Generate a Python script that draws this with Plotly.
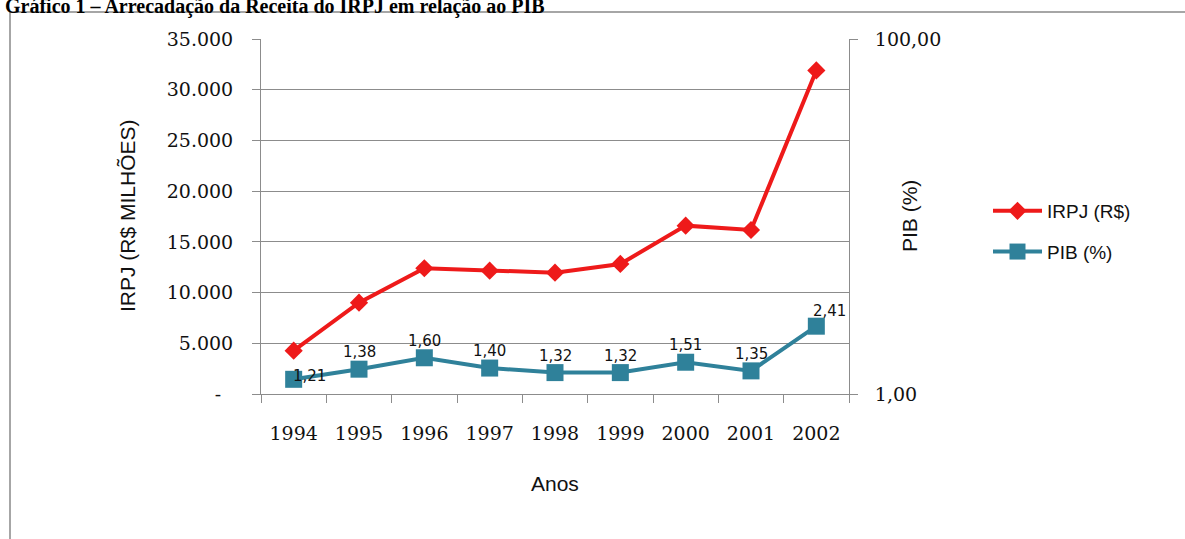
import math
import plotly.graph_objects as go

# Arrecadação do IRPJ (R$ milhões) e participação no PIB (%), 1994-2002
anos = ["1994", "1995", "1996", "1997", "1998", "1999", "2000", "2001", "2002"]
irpj = [4270, 9000, 12400, 12160, 11960, 12820, 16600, 16170, 31900]
pib = [1.21, 1.38, 1.60, 1.40, 1.32, 1.32, 1.51, 1.35, 2.41]

irpj_ticks = [0, 5000, 10000, 15000, 20000, 25000, 30000, 35000]
irpj_ticktext = ["-\u00a0\u00a0", "5.000", "10.000", "15.000", "20.000", "25.000", "30.000", "35.000"]
pib_ticks = [1, 100]
pib_ticktext = ["1,00", "100,00"]

W, H = 1185, 539
L, R, T, B = 261, 336, 39, 145
PW, PH = W - L - R, H - T - B


def px(x):
    return (x - L) / PW


def py(y):
    return (H - B - y) / PH


RED = "#ee1a1a"
TEAL = "#2f819a"
GRID = "#8c8c8c"
TICK_FONT = dict(family="DejaVu Serif", size=19, color="#111")
SANS = "Liberation Sans"

fig = go.Figure()
fig.add_trace(go.Scatter(
    x=anos, y=irpj, name="IRPJ (R$)", mode="lines+markers",
    line=dict(color=RED, width=4),
    marker=dict(symbol="diamond", size=14, color=RED),
    legendgroup="irpj",
))
fig.add_trace(go.Scatter(
    x=anos, y=pib, name="PIB (%)", yaxis="y2", mode="lines+markers",
    line=dict(color=TEAL, width=4),
    marker=dict(symbol="square", size=17, color=TEAL),
    legendgroup="pib",
))

# value labels of the PIB series (first and last nudged to the right)
label_shift = [(16, 3)] + [(0, 17)] * 7 + [(13, 15)]
annotations = []
for i, (v, (dx, dy)) in enumerate(zip(pib, label_shift)):
    annotations.append(dict(
        x=i, y=math.log10(v), xref="x", yref="y2",
        text=f"{v:.2f}".replace(".", ","), showarrow=False,
        xanchor="center", yanchor="middle",
        xshift=dx, yshift=dy,
        font=dict(family="DejaVu Sans", size=15, color="#111"),
    ))

# axis titles and caption
annotations += [
    dict(x=px(127), y=py(216), xref="paper", yref="paper", text="IRPJ (R$ MILHÕES)",
         xanchor="center", yanchor="middle",
         textangle=-90, showarrow=False, font=dict(family=SANS, size=21, color="#111")),
    dict(x=px(909), y=py(216), xref="paper", yref="paper", text="PIB (%)",
         xanchor="center", yanchor="middle",
         textangle=-90, showarrow=False, font=dict(family=SANS, size=21, color="#111")),
    dict(x=px(555), y=py(483), xref="paper", yref="paper", text="Anos",
         xanchor="center", yanchor="middle",
         showarrow=False, font=dict(family=SANS, size=21, color="#111")),
    dict(x=px(3), y=py(6.5), xref="paper", yref="paper", xanchor="left", yanchor="middle",
         text="<b>Gráfico 1 – Arrecadação da Receita do IRPJ em relação ao PIB</b>",
         showarrow=False, font=dict(family="Liberation Serif", size=20, color="#000")),
]

# chart frame
shapes = [
    dict(type="line", xref="paper", yref="paper", x0=px(10), x1=px(10), y0=py(12), y1=py(560),
         line=dict(color="#a6a6a6", width=2)),
    dict(type="line", xref="paper", yref="paper", x0=px(10), x1=px(1300), y0=py(12), y1=py(12),
         line=dict(color="#a6a6a6", width=2)),
]

fig.update_layout(
    width=W, height=H,
    margin=dict(l=L, r=R, t=T, b=B, autoexpand=False),
    paper_bgcolor="white", plot_bgcolor="white",
    showlegend=True,
    legend=dict(
        x=px(988), y=py(192), xanchor="left", yanchor="top",
        font=dict(family=SANS, size=19, color="#111"),
        tracegroupgap=13, itemwidth=49, bgcolor="rgba(0,0,0,0)",
    ),
    xaxis=dict(
        type="category", range=[-0.5, 8.5],
        showline=True, linecolor=GRID, linewidth=1,
        ticks="outside", tickson="boundaries", ticklen=8, tickcolor=GRID,
        showgrid=False, tickfont=TICK_FONT, ticklabelstandoff=22,
    ),
    yaxis=dict(
        range=[0, 35000], tickvals=irpj_ticks, ticktext=irpj_ticktext,
        showgrid=True, gridcolor=GRID, gridwidth=1, zeroline=False,
        showline=True, linecolor=GRID, linewidth=1,
        ticks="outside", ticklen=8, tickcolor=GRID,
        tickfont=TICK_FONT, ticklabelstandoff=15,
    ),
    yaxis2=dict(
        type="log", range=[0, 2], overlaying="y", side="right",
        tickvals=pib_ticks, ticktext=pib_ticktext,
        showgrid=False, zeroline=False,
        showline=True, linecolor=GRID, linewidth=1,
        ticks="outside", ticklen=8, tickcolor=GRID,
        tickfont=TICK_FONT, ticklabelstandoff=13,
    ),
    annotations=annotations,
    shapes=shapes,
)

fig.write_html("out.html")
